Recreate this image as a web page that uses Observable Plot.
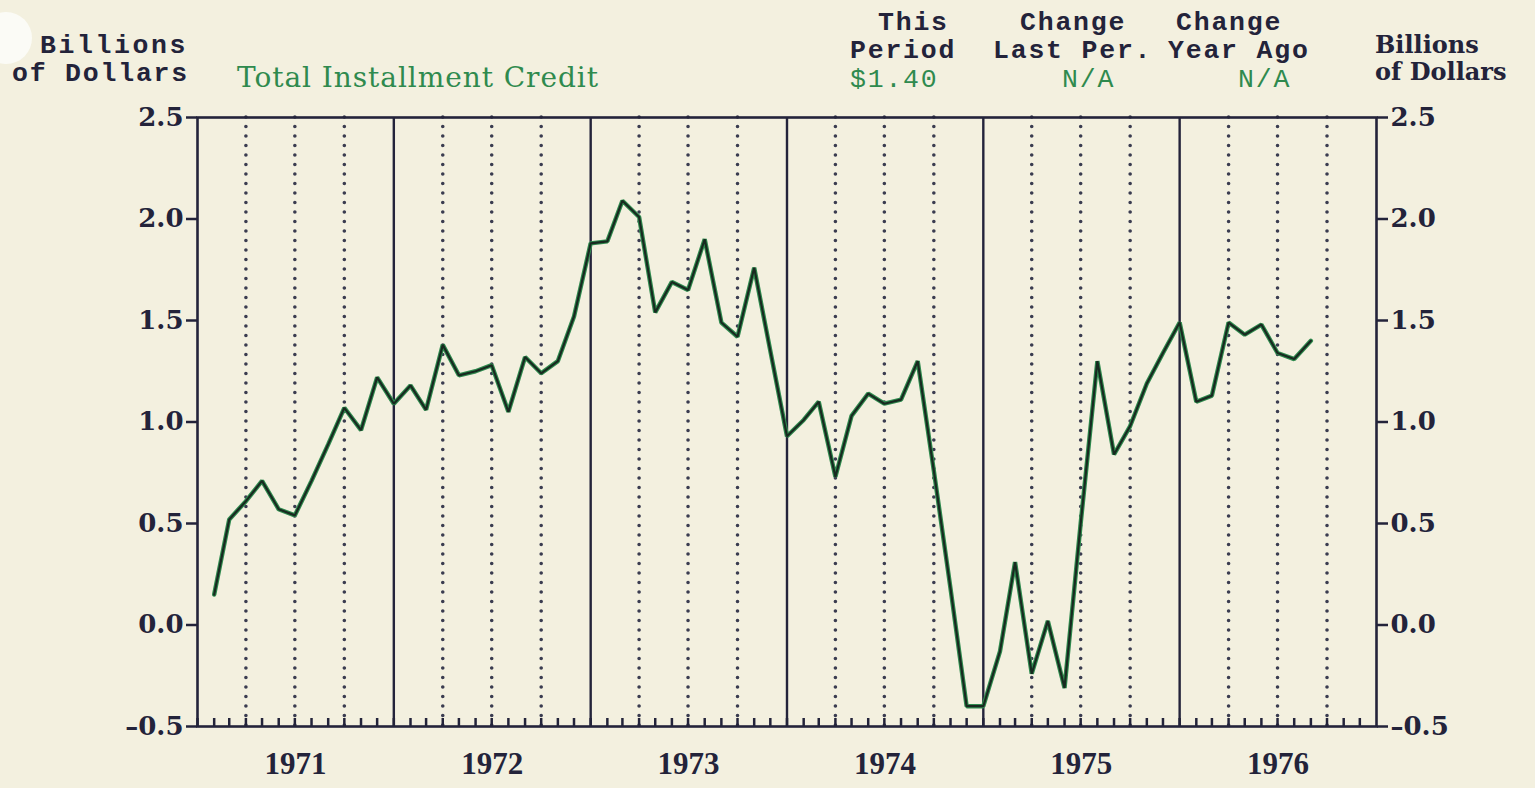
<!DOCTYPE html>
<html>
<head>
<meta charset="utf-8">
<script src="https://cdn.jsdelivr.net/npm/d3@7"></script>
<script src="https://cdn.jsdelivr.net/npm/@observablehq/plot@0.6"></script>
<style>
  html, body { margin: 0; padding: 0; background: #f3f0df; }
  #page { position: relative; width: 1535px; height: 788px; overflow: hidden; background: #f3f0df; }
  #header { position: relative; width: 1535px; height: 100px; }
  .t { position: absolute; white-space: pre; line-height: 0.8; }
  #chart { position: absolute; left: 0; top: 100px; }
  #punch { position: absolute; left: -20px; top: 12px; width: 52px; height: 52px; border-radius: 50%; background: #fbfbf6; }
</style>
</head>
<body>
<div id="page">
  <div id="header"></div>
  <div id="chart"></div>
  <div id="punch"></div>
</div>
<script>
// ---- Data (billions of dollars, monthly, Feb 1971 – Sep 1976) ----
const firstYear = 1971;
const firstMonth = 1; // 0 = January, so 1 = February
const values = [
  // 1971 (Feb–Dec)
  0.15, 0.52, 0.61, 0.71, 0.57, 0.54, 0.71, 0.89, 1.07, 0.96, 1.22,
  // 1972
  1.09, 1.18, 1.06, 1.38, 1.23, 1.25, 1.28, 1.05, 1.32, 1.24, 1.30, 1.52,
  // 1973
  1.88, 1.89, 2.09, 2.01, 1.54, 1.69, 1.65, 1.90, 1.49, 1.42, 1.76, 1.35,
  // 1974
  0.93, 1.01, 1.10, 0.73, 1.03, 1.14, 1.09, 1.11, 1.30, 0.76, 0.18, -0.40,
  // 1975
  -0.40, -0.13, 0.31, -0.24, 0.02, -0.31, 0.50, 1.30, 0.84, 0.98, 1.19, 1.34,
  // 1976 (Jan–Sep)
  1.49, 1.10, 1.13, 1.49, 1.43, 1.48, 1.34, 1.31, 1.40
];
const years = [1971, 1972, 1973, 1974, 1975, 1976];
const yTicks = [-0.5, 0, 0.5, 1.0, 1.5, 2.0, 2.5];
const title = "Total Installment Credit";
const thisPeriod = "$1.40";
const changeLastPer = "N/A";
const changeYearAgo = "N/A";

// ---- Derived tables ----
const data = values.map((v, i) => ({date: new Date(Date.UTC(firstYear, firstMonth + i, 1)), value: v}));
const yearStarts = [...years, years[years.length - 1] + 1].map(y => new Date(Date.UTC(y, 0, 1)));
const quarterLines = years.flatMap(y => [3, 6, 9].map(m => new Date(Date.UTC(y, m, 1))));
const monthTicks = d3.utcMonth.range(yearStarts[0], yearStarts[yearStarts.length - 1]);
const midYears = years.map(y => new Date(Date.UTC(y, 6, 2)));

// ---- Header texts ----
const header = document.getElementById("header");
const ctx = document.createElement("canvas").getContext("2d");
// baseline offset from box top for line-height 0.8: (0.8 + ascent - descent) / 2
const fonts = {
  mono:   {family: "'Liberation Mono', 'DejaVu Sans Mono', monospace", base: (0.8 + 0.833 - 0.300) / 2},
  serif:  {family: "'DejaVu Serif', serif", base: (0.8 + 0.928 - 0.236) / 2}
};
function addText(txt, left, baseline, font, size, weight, color, spacing, right) {
  const el = document.createElement("div");
  el.className = "t";
  el.textContent = txt;
  if (right != null) {
    ctx.font = `${weight} ${size}px ${font.family}`;
    const w = ctx.measureText(txt).width;
    el.style.letterSpacing = ((right - left - w) / Math.max(1, txt.length - 1)).toFixed(2) + "px";
  } else if (spacing) {
    el.style.letterSpacing = spacing + "px";
  }
  el.style.left = left + "px";
  el.style.top = (baseline - font.base * size) + "px";
  el.style.fontFamily = font.family;
  el.style.fontSize = size + "px";
  el.style.fontWeight = weight;
  el.style.color = color;
  header.appendChild(el);
}
const ink = "#23233a";
const green = "#2f8a4e";
const M = 26.5;          // typewriter size
const LS = 1.8;          // extra spacing to match the typewriter pitch (~17.7 px)
addText("Billions", 40, 54, fonts.mono, M, "bold", ink, 2.6);
addText("of Dollars", 12, 82, fonts.mono, M, "bold", ink, LS);
addText(title, 237, 88, fonts.serif, 28, "normal", green, 0, 598);
addText("This", 878, 31, fonts.mono, M, "bold", ink, LS);
addText("Period", 850, 59, fonts.mono, M, "bold", ink, LS);
addText(thisPeriod, 850, 88, fonts.mono, M, "normal", green, LS);
addText("Change", 1020, 31, fonts.mono, M, "bold", ink, LS);
addText("Last Per.", 993, 59, fonts.mono, M, "bold", ink, LS);
addText(changeLastPer, 1062, 88, fonts.mono, M, "normal", green, LS);
addText("Change", 1176, 31, fonts.mono, M, "bold", ink, LS);
addText("Year Ago", 1168, 59, fonts.mono, M, "bold", ink, LS);
addText(changeYearAgo, 1238, 88, fonts.mono, M, "normal", green, LS);
addText("Billions", 1375, 53, fonts.serif, 24, "bold", ink);
addText("of Dollars", 1375, 80, fonts.serif, 24, "bold", ink);

// ---- Chart ----
const fmt = d => (d < 0 ? "\u2013" : "") + Math.abs(d).toFixed(1);
const tickFont = {fontFamily: "'DejaVu Serif', serif", fontWeight: "bold", fontSize: 26};

const chart = Plot.plot({
  width: 1535,
  height: 688,
  marginTop: 17,
  marginBottom: 62,
  marginLeft: 197,
  marginRight: 159,
  style: {background: "transparent", color: ink, overflow: "visible"},
  x: {type: "utc", domain: [yearStarts[0], yearStarts[yearStarts.length - 1]]},
  y: {domain: [-0.5, 2.5]},
  marks: [
    Plot.ruleX(quarterLines, {stroke: "#3a3c50", strokeWidth: 3.6, strokeDasharray: "0,9.5", strokeLinecap: "round"}),
    Plot.ruleX(yearStarts.slice(1, -1), {stroke: ink, strokeWidth: 2.4}),
    Plot.line(data, {x: "date", y: "value", stroke: "#2f8a4e", strokeWidth: 4.4, strokeLinejoin: "miter"}),
    Plot.line(data, {x: "date", y: "value", stroke: "#182a20", strokeWidth: 2.2, strokeLinejoin: "miter"}),
    Plot.frame({stroke: ink, strokeWidth: 2.6}),
    Plot.axisY({anchor: "left", ticks: yTicks, tickSize: 11, tickPadding: 3, tickFormat: fmt, label: null, strokeWidth: 2.5, ...tickFont}),
    Plot.axisY({anchor: "right", ticks: yTicks, tickSize: 11, tickPadding: 3, tickFormat: fmt, label: null, strokeWidth: 2.5, ...tickFont}),
    Plot.axisX({ticks: monthTicks, tickSize: -8, tickFormat: () => "", label: null, strokeWidth: 2.5}),
    Plot.axisX({ticks: midYears, tickSize: 0, tickPadding: 25, tickFormat: d => String(d.getUTCFullYear()), label: null,
      fontFamily: "'Liberation Serif', serif", fontWeight: "bold", fontSize: 31})
  ]
});
document.getElementById("chart").appendChild(chart);
</script>
</body>
</html>
